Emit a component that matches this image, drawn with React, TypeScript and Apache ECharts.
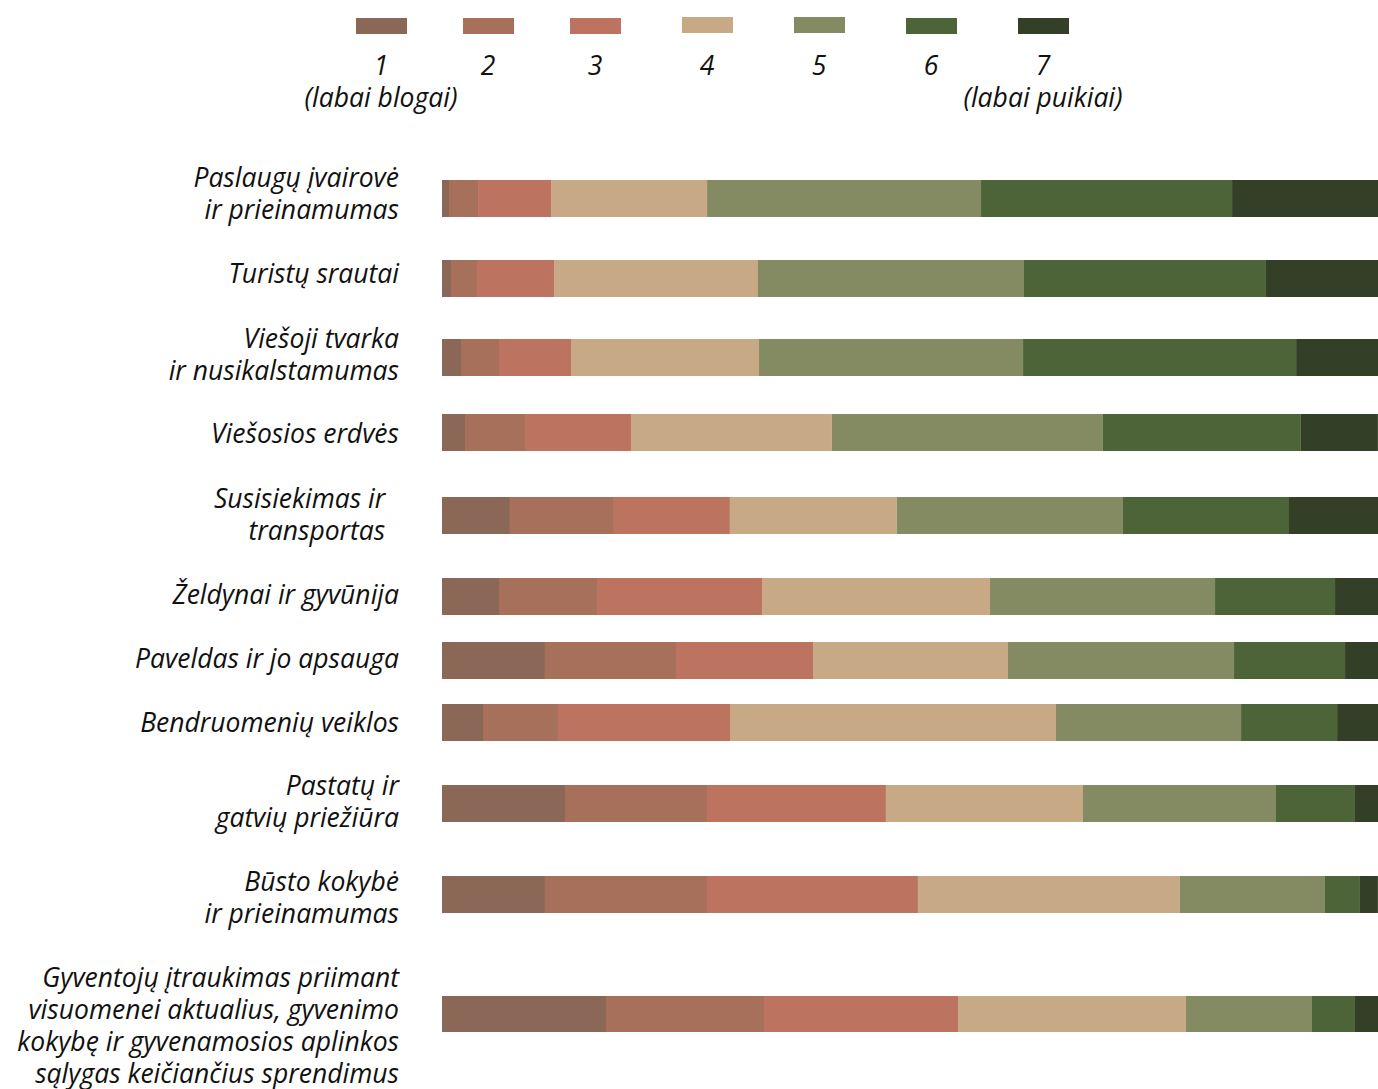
import React, { useEffect, useRef } from "react";
import * as echarts from "echarts";

const CATEGORIES = [
  "Paslaugų įvairovė\nir prieinamumas",
  "Turistų srautai",
  "Viešoji tvarka\nir nusikalstamumas",
  "Viešosios erdvės",
  "Susisiekimas ir\u00A0\u00A0\ntransportas\u00A0\u00A0",
  "Želdynai ir gyvūnija",
  "Paveldas ir jo apsauga",
  "Bendruomenių veiklos",
  "Pastatų ir\ngatvių priežiūra",
  "Būsto kokybė\nir prieinamumas",
  "Gyventojų įtraukimas priimant\nvisuomenei aktualius, gyvenimo\nkokybę ir gyvenamosios aplinkos\nsąlygas keičiančius sprendimus",
];

const SERIES_NAMES = ["1", "2", "3", "4", "5", "6", "7"];
const LEGEND_SUBTITLES = ["(labai blogai)", "", "", "", "", "", "(labai puikiai)"];

const R1 = [0.75, 0.96, 2.03, 2.46, 7.26, 6.09, 11.0, 4.38, 13.14, 11.0, 17.52];
const R2 = [3.1, 2.78, 4.06, 6.41, 11.11, 10.47, 14.0, 8.01, 15.17, 17.31, 16.88];
const R3 = [7.8, 8.23, 7.69, 11.32, 12.39, 17.63, 14.64, 18.38, 19.12, 22.54, 20.73];
const R4 = [16.67, 21.79, 20.09, 21.47, 17.84, 24.36, 20.83, 34.83, 21.05, 27.99, 24.36];
const R5 = [29.27, 28.42, 28.21, 28.95, 24.15, 24.04, 24.15, 19.77, 20.62, 15.49, 13.46];
const R6 = [26.82, 25.85, 29.17, 21.15, 17.74, 12.82, 11.86, 10.26, 8.44, 3.74, 4.59];
const R7 = [15.6, 11.97, 8.76, 8.23, 9.51, 4.59, 3.53, 4.38, 2.46, 1.92, 2.46];
const SERIES_VALUES = [R1, R2, R3, R4, R5, R6, R7];

// layout (not data)
const COLORS = ["#8A6757", "#A6705B", "#BC7460", "#C8A986", "#848A61", "#4C6438", "#333F27"];
const ROW_CENTERS = [198.5, 278.5, 357.5, 432.5, 515.5, 596.5, 660.5, 722.5, 803.5, 894.5, 1014.5];
// vertical shift of each category label relative to its bar centre (px, + = down)
const LABEL_SHIFT = [-6, -6, -4, 0, -2, -3, -3, -1, -3, 2, 11];
const BAR_H = 37;
const LEGEND_LEFT = [356, 463, 570, 682, 794, 906, 1018];
const LEGEND_TOP = [18, 18, 18, 17, 17, 18, 18];
const FONT = "'Open Sans', 'Noto Sans', sans-serif";
const FS = 26.5;

export default function App() {
  const ref = useRef<HTMLDivElement>(null);
  useEffect(() => {
    if (!ref.current) return;
    const chart = echarts.init(ref.current, null, { renderer: "svg" });
    const n = CATEGORIES.length;
    const grids = ROW_CENTERS.map((c) => ({
      left: 442,
      right: 0,
      top: c - BAR_H / 2,
      height: BAR_H,
      containLabel: false,
    }));
    const xAxes = ROW_CENTERS.map((_, i) => ({
      type: "value",
      gridIndex: i,
      min: 0,
      max: 100,
      show: false,
    }));
    const yAxes = CATEGORIES.map((cat, i) => {
      const s = LABEL_SHIFT[i];
      const pad = Math.abs(s) * 2;
      return {
        type: "category",
        gridIndex: i,
        data: [cat],
        axisLine: { show: false },
        axisTick: { show: false },
        splitLine: { show: false },
        axisLabel: {
          margin: 43,
          fontFamily: FONT,
          fontStyle: "italic",
          fontSize: FS,
          lineHeight: 32,
          color: "#111",
          align: "right",
          formatter: (v: string) =>
            s === 0 ? v : s < 0 ? v + "\n{s| }" : "{s| }\n" + v,
          rich: {
            s: { fontSize: 1, lineHeight: pad || 1 },
          },
        },
      };
    });
    const series: any[] = [];
    for (let r = 0; r < n; r++) {
      SERIES_NAMES.forEach((name, k) => {
        series.push({
          type: "bar",
          name,
          xAxisIndex: r,
          yAxisIndex: r,
          stack: "total" + r,
          barWidth: "100%",
          itemStyle: { color: COLORS[k] },
          emphasis: { disabled: true },
          data: [SERIES_VALUES[k][r]],
        });
      });
    }
    const legends = SERIES_NAMES.map((name, k) => ({
      data: [name],
      left: LEGEND_LEFT[k],
      top: LEGEND_TOP[k],
      padding: 0,
      itemWidth: 51,
      itemHeight: 16,
      icon: "rect",
      selectedMode: false,
      formatter: () => "",
      textStyle: { fontSize: 1 },
    }));
    const graphics: any[] = [];
    SERIES_NAMES.forEach((name, k) => {
      const cx = LEGEND_LEFT[k] + 25;
      graphics.push({
        type: "text",
        x: cx,
        y: 65,
        style: {
          text: name,
          fontFamily: FONT,
          fontStyle: "italic",
          fontSize: FS,
          fill: "#111",
          align: "center",
          verticalAlign: "middle",
        },
      });
      if (LEGEND_SUBTITLES[k]) {
        graphics.push({
          type: "text",
          x: cx,
          y: 97,
          style: {
            text: LEGEND_SUBTITLES[k],
            fontFamily: FONT,
            fontStyle: "italic",
            fontSize: FS,
            fill: "#111",
            align: "center",
            verticalAlign: "middle",
          },
        });
      }
    });
    chart.setOption({
      animation: false,
      backgroundColor: "#fff",
      grid: grids,
      xAxis: xAxes,
      yAxis: yAxes,
      legend: legends,
      graphic: graphics,
      series,
    });
    return () => chart.dispose();
  }, []);
  return (
    <div
      ref={ref}
      style={{ position: "fixed", left: 0, top: 0, width: 1378, height: 1089 }}
    />
  );
}
